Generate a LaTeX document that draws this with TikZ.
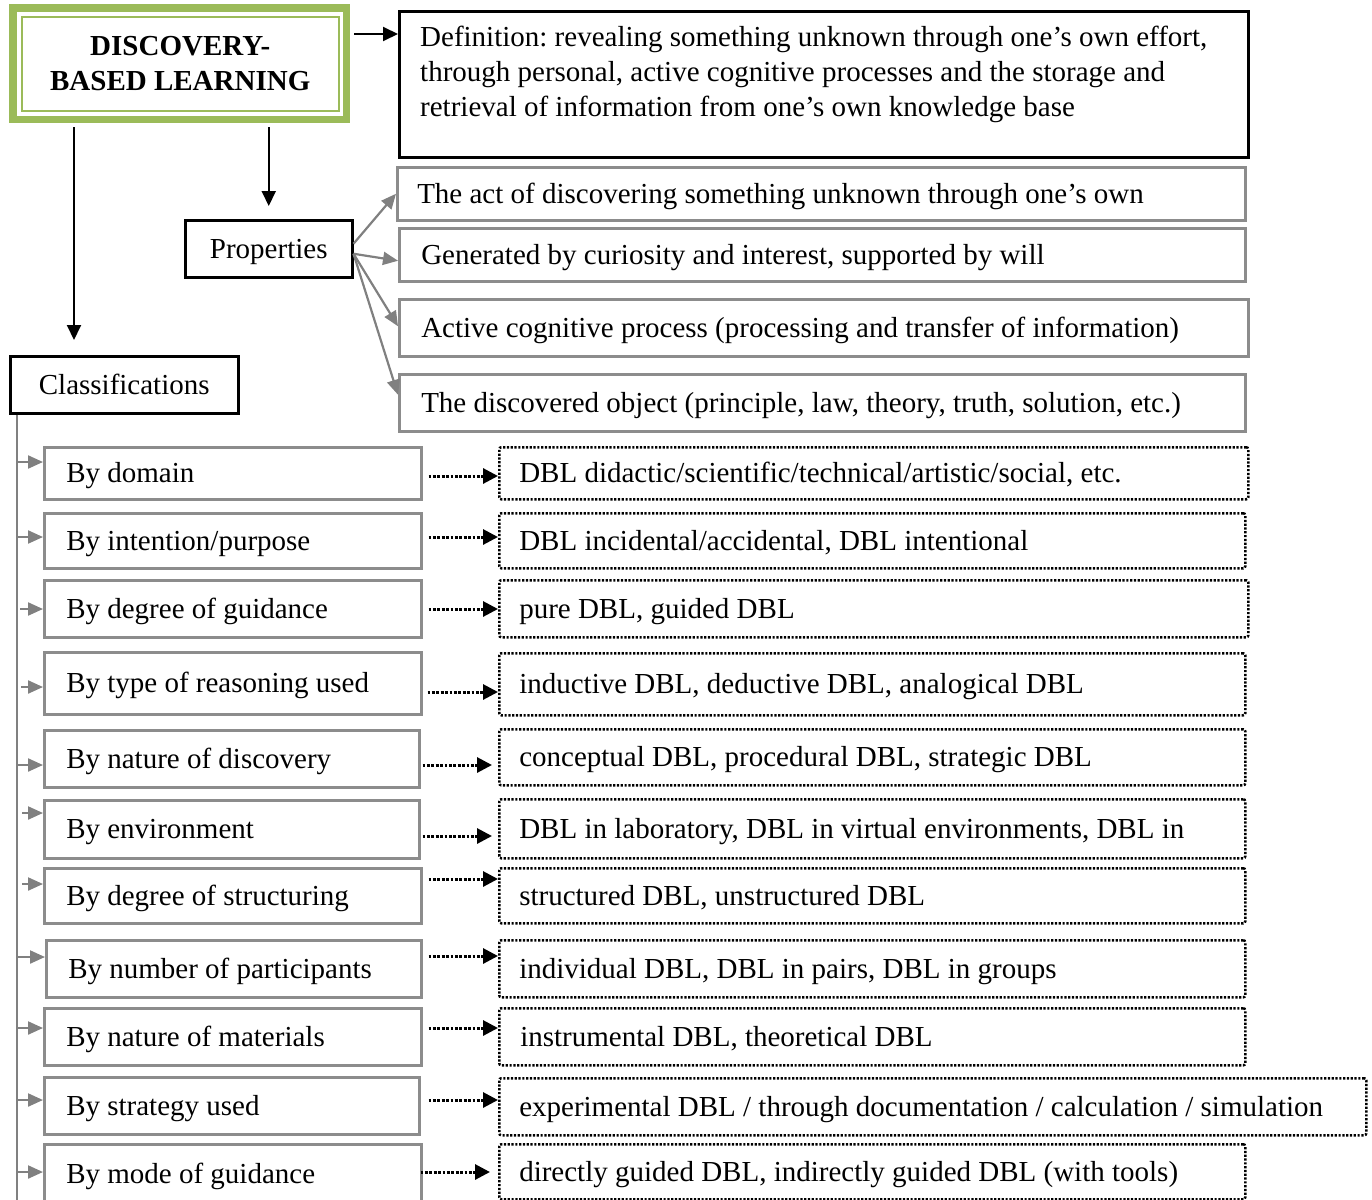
\documentclass[tikz,border=0pt]{standalone}
\usepackage{fontspec}
\setmainfont{Liberation Serif}
\usetikzlibrary{arrows.meta,calc}
\definecolor{olive}{RGB}{155,187,89}
\definecolor{bgray}{RGB}{140,140,140}
\definecolor{agray}{RGB}{128,128,128}
\frenchspacing
\newcommand\bx[8]{%
\pgfmathsetmacro\bxw{#6-#4-2*#3}\pgfmathsetmacro\bxh{#7-#5}%
\node[#2, anchor=north west, inner xsep=#3pt, inner ysep=0pt, minimum height=\bxh pt] (#1) at (#4,-#5) {\makebox[\bxw pt][l]{#8}};}
\tikzset{
  txtstyle/.style={text height=19.2pt, text depth=0pt},
  blackbox/.style={draw=black, line width=2.5pt, txtstyle, inner sep=0pt},
  graybox/.style={draw=bgray, line width=2.5pt, txtstyle},
  dotbox/.style={draw=black, line width=2.5pt, dash pattern=on 2.2pt off 1.6pt, rounded corners=2pt, txtstyle},
  deftxt/.style={anchor=base west, inner sep=0pt},
  barr/.style={draw=black, line width=2pt, -{Triangle[length=15pt,width=14pt]}},
  garr/.style={draw=agray, line width=2.2pt, -{Triangle[length=15pt,width=13pt]}},
  darr/.style={draw=black, line width=3pt, dash pattern=on 2.8pt off 1.6pt, -{Triangle[length=15pt,width=15pt]}},
  gline/.style={draw=agray, line width=2pt}
}
\begin{document}
\begin{tikzpicture}[x=1pt, y=1pt, font=\fontsize{29}{35}\selectfont]
\useasboundingbox (0,0) rectangle (1372,-1199);
% title
\node[draw=olive, line width=2pt, minimum width=316.5pt, minimum height=93.5pt, inner sep=0pt, align=center, font=\fontsize{29}{35}\selectfont\bfseries, anchor=north west] (title) at (21,-16) {DISCOVERY-\\BASED LEARNING};
\draw[olive, line width=7.5pt] ($(title.north west)+(-8,8)$) rectangle ($(title.south east)+(7,-8)$);
% definition
\node[draw=black, line width=3pt, anchor=north west, minimum width=849pt, minimum height=146pt, inner sep=0pt] (defn) at (398,-10) {};
\node[deftxt] (def1) at (420,-47) {Definition: revealing something unknown through one’s own effort,};
\node[deftxt] (def2) at (420,-81.5) {through personal, active cognitive processes and the storage and};
\node[deftxt] (def3) at (420,-116) {retrieval of information from one’s own knowledge base};
\coordinate (dA) at ($(defn.north west)+(0,-24)$);
\draw[barr] ($(dA -| title.east)+(14.5,0)$) -- (dA);
% properties
\node[blackbox, anchor=north west, minimum width=167pt, minimum height=57pt] (prop) at (184,-219) {Properties};
\coordinate (pA) at ($(prop.north)+(0,13)$);
\draw[barr] ($(pA |- title.south)+(0,-15.5)$) -- (pA);
% classifications
\node[blackbox, anchor=north west, minimum width=228pt, minimum height=57pt] (classif) at (9,-355) {Classifications};
\coordinate (cA) at ($(classif.north west)+(65,15)$);
\draw[barr] ($(cA |- title.south)+(0,-15.5)$) -- (cA);
% property boxes
\bx{p1}{graybox}{20}{396}{166}{1244}{219}{The act of discovering something unknown through one’s own}
\bx{p2}{graybox}{22}{398}{227}{1244}{280}{Generated by curiosity and interest, supported by will}
\bx{p3}{graybox}{22}{398}{298}{1247}{355}{Active cognitive process (processing and transfer of information)}
\bx{p4}{graybox}{22}{398}{373}{1244}{430}{The discovered object (principle, law, theory, truth, solution, etc.)}
\draw[garr] ([yshift=5pt]prop.east) -- (p1.west);
\draw[garr] ([yshift=-5pt]prop.east) -- ([yshift=-6pt]p2.west);
\draw[garr] ([yshift=-5pt]prop.east) -- ([yshift=1.5pt]p3.west);
\draw[garr] ([yshift=-5pt]prop.east) -- ([yshift=8pt]p4.west);
% classification rows
\bx{l1}{graybox}{22}{43}{446}{420}{498}{By domain}
\bx{l2}{graybox}{22}{43}{512}{420}{567}{By intention/purpose}
\bx{l3}{graybox}{22}{43}{579}{420}{636}{By degree of guidance}
\bx{l4}{graybox}{22}{43}{651}{420}{713}{By type of reasoning used}
\bx{l5}{graybox}{22}{43}{729}{418}{786}{By nature of discovery}
\bx{l6}{graybox}{22}{43}{799}{418}{857}{By environment}
\bx{l7}{graybox}{22}{43}{867}{420}{922}{By degree of structuring}
\bx{l8}{graybox}{22}{45}{939}{420}{996}{By number of participants}
\bx{l9}{graybox}{22}{43}{1007}{420}{1064}{By nature of materials}
\bx{l10}{graybox}{22}{43}{1076}{418}{1133}{By strategy used}
\bx{l11}{graybox}{22}{43}{1143}{420}{1203}{By mode of guidance}
\bx{r1}{dotbox}{20}{498}{446}{1247}{498}{DBL didactic/scientific/technical/artistic/social, etc.}
\bx{r2}{dotbox}{20}{498}{512}{1244}{567}{DBL incidental/accidental, DBL intentional}
\bx{r3}{dotbox}{20}{498}{579}{1247}{636}{pure DBL, guided DBL}
\bx{r4}{dotbox}{20}{498}{652}{1244}{714}{inductive DBL, deductive DBL, analogical DBL}
\bx{r5}{dotbox}{20}{498}{728}{1244}{784}{conceptual DBL, procedural DBL, strategic DBL}
\bx{r6}{dotbox}{20}{498}{798}{1244}{857}{DBL in laboratory, DBL in virtual environments, DBL in}
\bx{r7}{dotbox}{20}{498}{867}{1244}{922}{structured DBL, unstructured DBL}
\bx{r8}{dotbox}{20}{498}{939}{1244}{996}{individual DBL, DBL in pairs, DBL in groups}
\bx{r9}{dotbox}{21}{498}{1007}{1244}{1064}{instrumental DBL, theoretical DBL}
\bx{r10}{dotbox}{20}{498}{1077}{1365}{1134}{experimental DBL / through documentation / calculation / simulation}
\bx{r11}{dotbox}{20}{498}{1143}{1244}{1198}{directly guided DBL, indirectly guided DBL (with tools)}
% spine
\coordinate (sp) at ($(classif.south west)+(8,0)$);
\coordinate (spEnd) at (17,-1205);
\draw[gline] (sp) -- (spEnd);
\foreach \n/\y/\o in {1/462/0, 2/537/0, 3/609/3, 4/687/4, 5/765/0, 6/813/5, 7/884/5, 8/957/0, 9/1028/0, 10/1100/1, 11/1172/0}
  \draw[garr] ($(sp |- 0,-\y)+(\o,0)$) -- (l\n.west |- 0,-\y);
\foreach \n/\y/\s/\e in {1/476/6/0, 2/537/6/0, 3/609/6/0, 4/692/5/0, 5/765/2/-6, 6/836/2/-6, 7/879/6/0, 8/956/6/0, 9/1028/6/0, 10/1100/8/0, 11/1172/-2/-8}
  \draw[darr] ($(l\n.east |- 0,-\y)+(\s,0)$) -- ($(r\n.west |- 0,-\y)+(\e,0)$);
\end{tikzpicture}
\end{document}
